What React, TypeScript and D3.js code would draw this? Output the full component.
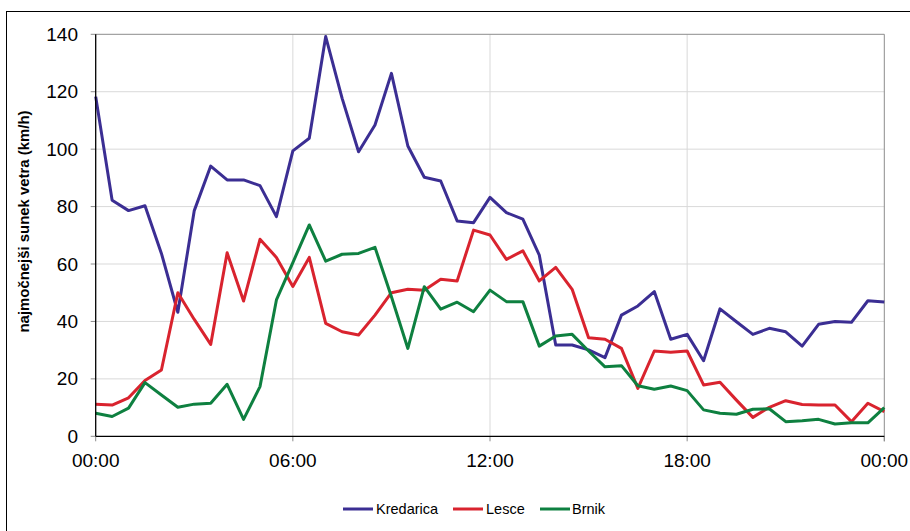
import React from "react";
import * as d3 from "d3";

const hours: number[] = Array.from({ length: 49 }, (_, i) => i * 0.5);

const kredarica = [118.3,82.2,78.6,80.3,63.7,43.2,78.6,94.1,89.3,89.3,87.3,76.5,99.4,103.8,139.2,117.7,99.1,108.4,126.4,101.1,90.2,88.9,75.0,74.4,83.2,77.9,75.6,63.1,31.8,31.8,30.1,27.4,42.2,45.4,50.4,33.8,35.5,26.3,44.4,39.9,35.5,37.6,36.4,31.4,39.0,40.0,39.7,47.2,46.8];
const lesce = [11.2,10.9,13.4,19.4,23.1,50.0,40.7,32.0,63.9,47.1,68.6,62.3,52.2,62.3,39.3,36.4,35.3,42.2,50.0,51.2,50.9,54.7,54.1,71.8,70.1,61.6,64.6,54.1,58.8,51.2,34.3,33.8,30.6,16.7,29.7,29.3,29.7,17.9,18.8,12.6,6.6,10.1,12.4,11.1,10.9,10.9,5.1,11.5,8.6];
const brnik = [8.0,6.9,9.8,18.7,14.4,10.1,11.2,11.5,18.1,5.9,17.3,47.5,60.5,73.6,61.0,63.4,63.7,65.8,48.6,30.6,52.1,44.3,46.7,43.4,50.9,46.9,46.9,31.4,34.9,35.5,29.7,24.2,24.6,17.6,16.4,17.5,15.9,9.2,8.0,7.7,9.4,9.6,5.1,5.4,5.9,4.3,4.7,4.7,10.0];

const seriesNames = ["Kredarica", "Lesce", "Brnik"];
const seriesColors = ["#3b2e93", "#d9232e", "#0e8040"];
const seriesData = [kredarica, lesce, brnik];

const xTickValues = [0, 6, 12, 18, 24];
const xTickLabels = ["00:00", "06:00", "12:00", "18:00", "00:00"];
const yTickValues = [0, 20, 40, 60, 80, 100, 120, 140];
const yTitle = "najmočnejši sunek vetra (km/h)";

export default function App() {
  const W = 910, H = 531;
  const left = 95.7, right = 884.3, top = 34.3, bottom = 436.3;
  const x = d3.scaleLinear().domain([0, 24]).range([left, right]);
  const y = d3.scaleLinear().domain([0, 140]).range([bottom, top]);
  const line = d3.line<number>().x((_, i) => x(hours[i])).y((d) => y(d));
  const font = "Arial, 'Liberation Sans', sans-serif";

  const legendItems = [
    { lx: 343, tx: 376 },
    { lx: 453, tx: 486 },
    { lx: 540, tx: 572 },
  ];

  return (
    <svg width={W} height={H} style={{ position: "absolute", left: 0, top: 0, background: "#fff" }} fontFamily={font}>
      <rect x={6.5} y={11.5} width={W + 10} height={H + 10} fill="#fff" stroke="#000" strokeWidth={1} />
      {/* grid */}
      {yTickValues.filter((v) => v > 0 && v < 140).map((v) => (
        <line key={"gy" + v} x1={left} x2={right} y1={y(v)} y2={y(v)} stroke="#d9d9d9" strokeWidth={1} />
      ))}
      {xTickValues.filter((v) => v > 0 && v < 24).map((v) => (
        <line key={"gx" + v} x1={x(v)} x2={x(v)} y1={top} y2={bottom} stroke="#d9d9d9" strokeWidth={1} />
      ))}
      {/* plot border top/right */}
      <line x1={left} x2={right} y1={top} y2={top} stroke="#8c8c8c" strokeWidth={1} />
      <line x1={right} x2={right} y1={top} y2={bottom + 5} stroke="#8c8c8c" strokeWidth={1} />
      {/* ticks */}
      {yTickValues.map((v) => (
        <line key={"ty" + v} x1={left - 5} x2={left} y1={y(v)} y2={y(v)} stroke="#8c8c8c" strokeWidth={1} />
      ))}
      {xTickValues.map((v) => (
        <line key={"tx" + v} x1={x(v)} x2={x(v)} y1={bottom} y2={bottom + 5} stroke="#8c8c8c" strokeWidth={1} />
      ))}
      {/* series */}
      {seriesData.map((d, k) => (
        <path key={seriesNames[k]} d={line(d) || ""} fill="none" stroke={seriesColors[k]} strokeWidth={3} strokeLinejoin="round" />
      ))}
      {/* axes */}
      <line x1={left} x2={left} y1={top} y2={bottom} stroke="#000" strokeWidth={1.3} />
      <line x1={left} x2={right} y1={bottom} y2={bottom} stroke="#000" strokeWidth={1.3} />
      {/* y labels */}
      {yTickValues.map((v) => (
        <text key={"ly" + v} x={78} y={y(v)} textAnchor="end" dominantBaseline="central" fontSize={19} fill="#000">
          {v}
        </text>
      ))}
      {xTickValues.map((v, i) => (
        <text key={"lx" + i} x={x(v)} y={466.5} textAnchor="middle" fontSize={19} fill="#000">
          {xTickLabels[i]}
        </text>
      ))}
      <text transform={`translate(28.5,221.5) rotate(-90)`} textAnchor="middle" fontSize={15} fontWeight="bold" fill="#000" textLength={222} lengthAdjust="spacingAndGlyphs">
        {yTitle}
      </text>
      {/* legend */}
      {seriesNames.map((n, k) => (
        <g key={"lg" + n}>
          <line x1={legendItems[k].lx} x2={legendItems[k].lx + 30} y1={509} y2={509} stroke={seriesColors[k]} strokeWidth={3} />
          <text x={legendItems[k].tx} y={514} fontSize={14.5} fill="#000">{n}</text>
        </g>
      ))}
    </svg>
  );
}
